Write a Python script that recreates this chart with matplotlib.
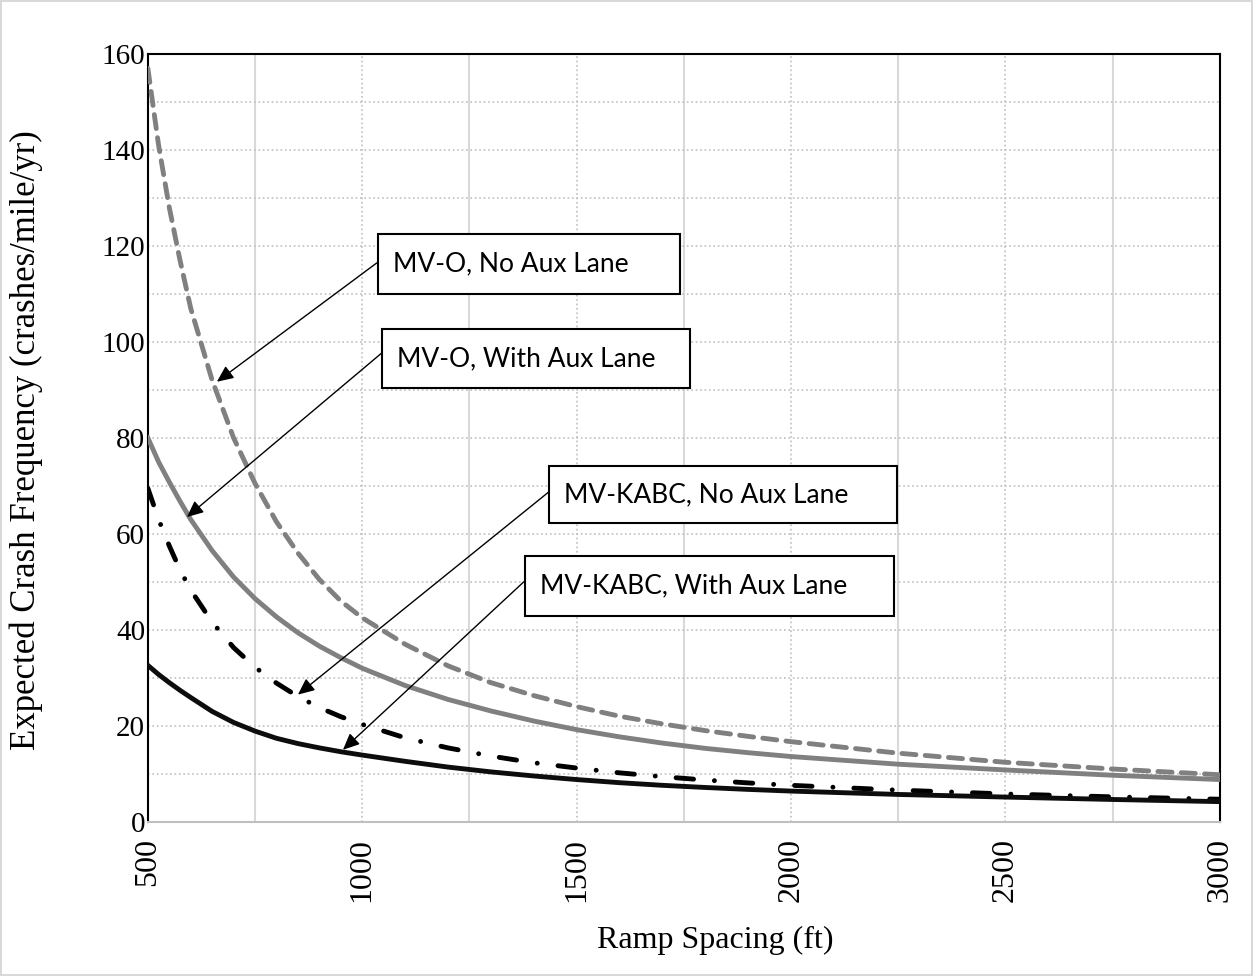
import numpy as np
import matplotlib
matplotlib.use('Agg')
import matplotlib.pyplot as plt
from matplotlib.patches import Rectangle
from matplotlib.ticker import MultipleLocator

# ramp spacing (ft) and expected crash frequency (crashes/mile/yr)
spacing = [500, 525, 550, 575, 600, 650, 700, 750, 800, 850, 900, 950, 1000,
           1100, 1200, 1300, 1400, 1500, 1600, 1700, 1800, 1900, 2000,
           2250, 2500, 2750, 3000]
mvo_no_aux = [157, 141, 128, 117, 107, 92, 80, 70.5, 62.5, 56, 50.5, 46, 42.5,
              37, 32.5, 29, 26.3, 24, 22, 20.4, 19, 17.8, 16.7,
              14.3, 12.4, 11, 9.8]
mvo_aux = [80, 75, 70.8, 66.8, 63, 56.5, 51, 46.5, 42.7, 39.4, 36.6, 34.2, 32,
           28.4, 25.5, 23.1, 21, 19.2, 17.7, 16.4, 15.3, 14.4, 13.6,
           12, 10.8, 9.7, 8.8]
kabc_no_aux = [69.5, 63, 57.5, 52.5, 48.3, 41.6, 36.3, 32.2, 28.9, 26.1, 23.8, 21.9, 20.3,
               17.5, 15.4, 13.7, 12.3, 11.2, 10.2, 9.4, 8.7, 8.1, 7.6,
               6.6, 5.8, 5.2, 4.7]
kabc_aux = [32.6, 30.7, 29, 27.4, 25.9, 23, 20.7, 18.9, 17.4, 16.3, 15.4, 14.6, 13.9,
            12.6, 11.4, 10.4, 9.55, 8.8, 8.15, 7.6, 7.15, 6.75, 6.4,
            5.7, 5.15, 4.65, 4.2]

labels = ['MV-O, No Aux Lane', 'MV-O, With Aux Lane', 'MV-KABC, No Aux Lane', 'MV-KABC, With Aux Lane']
# arrow tips (data coords) for each label
tips = [(661, 91.7), (591, 63.5), (850, 26.5), (955, 15)]

fig = plt.figure(figsize=(12.53, 9.76), dpi=100)
fig.patch.set_edgecolor('#d9d9d9')
fig.patch.set_linewidth(1.5)
ax = fig.add_axes([0.118, 0.158, 0.8555, 0.7867])

gray = '#808080'
ax.plot(spacing, mvo_no_aux, color=gray, lw=3.5, ls=(0, (2.9, 1.9)),
        dash_capstyle='round', zorder=3)
ax.plot(spacing, mvo_aux, color=gray, lw=3.5, zorder=3)
ax.plot(spacing, kabc_no_aux, color='black', lw=3.5, ls=(0, (3.6, 4.3, 0.01, 4.3)),
        dash_capstyle='round', zorder=3)
ax.plot(spacing, kabc_aux, color='#0d0d0d', lw=3.5, zorder=3)

ax.set_xlim(500, 3000)
ax.set_ylim(0, 160)
ax.xaxis.set_major_locator(MultipleLocator(500))
ax.xaxis.set_minor_locator(MultipleLocator(250))
ax.yaxis.set_major_locator(MultipleLocator(20))
ax.yaxis.set_minor_locator(MultipleLocator(10))
ax.grid(which='major', axis='x', color='#bfbfbf', ls=':', lw=1.2)
ax.grid(which='minor', axis='x', color='#d9d9d9', ls='-', lw=1.5)
ax.grid(which='both', axis='y', color='#bfbfbf', ls=':', lw=1.2)
ax.set_axisbelow(True)
ax.tick_params(which='both', length=0)
ax.tick_params(axis='x', labelsize=23, pad=12)
ax.tick_params(axis='y', labelsize=21, pad=2)
for lab in ax.get_xticklabels() + ax.get_yticklabels():
    lab.set_family('Liberation Serif')
for lab in ax.get_xticklabels():
    lab.set_rotation(90)

for s in ['left', 'top', 'right']:
    ax.spines[s].set_color('black')
    ax.spines[s].set_linewidth(1.5)
ax.spines['bottom'].set_color('#bfbfbf')
ax.spines['bottom'].set_linewidth(1.5)

ax.set_xlabel('Ramp Spacing (ft)', family='Liberation Serif', fontsize=23)
ax.xaxis.set_label_coords(0.529, -0.136)
ax.set_ylabel('Expected Crash Frequency (crashes/mile/yr)', family='Liberation Serif',
              fontsize=25)
ax.yaxis.set_label_coords(-0.098, 0.497)

# callout boxes in axes fraction: x0, y0, x1, y1, arrow start
boxes = [(0.2146, 0.6875, 0.4963, 0.7656, (0.2136, 0.7279)),
         (0.2183, 0.5651, 0.5056, 0.6419, (0.2183, 0.6107)),
         (0.3741, 0.3893, 0.6987, 0.4635, (0.3741, 0.4297)),
         (0.3517, 0.2682, 0.6959, 0.3464, (0.3507, 0.3125))]
for lab, tip, (x0, y0, x1, y1, start) in zip(labels, tips, boxes):
    ax.add_patch(Rectangle((x0, y0), x1 - x0, y1 - y0, transform=ax.transAxes,
                           facecolor='white', edgecolor='black', lw=1.5, zorder=5))
    ax.text(x0 + 0.014, (y0 + y1) / 2, lab, transform=ax.transAxes, family='Lato',
            fontsize=19, va='center', ha='left', zorder=6)
    ax.annotate('', xy=tip, xycoords='data', xytext=start, textcoords='axes fraction',
                arrowprops=dict(arrowstyle='-|>,head_length=1.0,head_width=0.45',
                                color='black', lw=1, shrinkA=0, shrinkB=0), zorder=4)

fig.savefig('out.png', dpi=100, edgecolor=fig.get_edgecolor())
